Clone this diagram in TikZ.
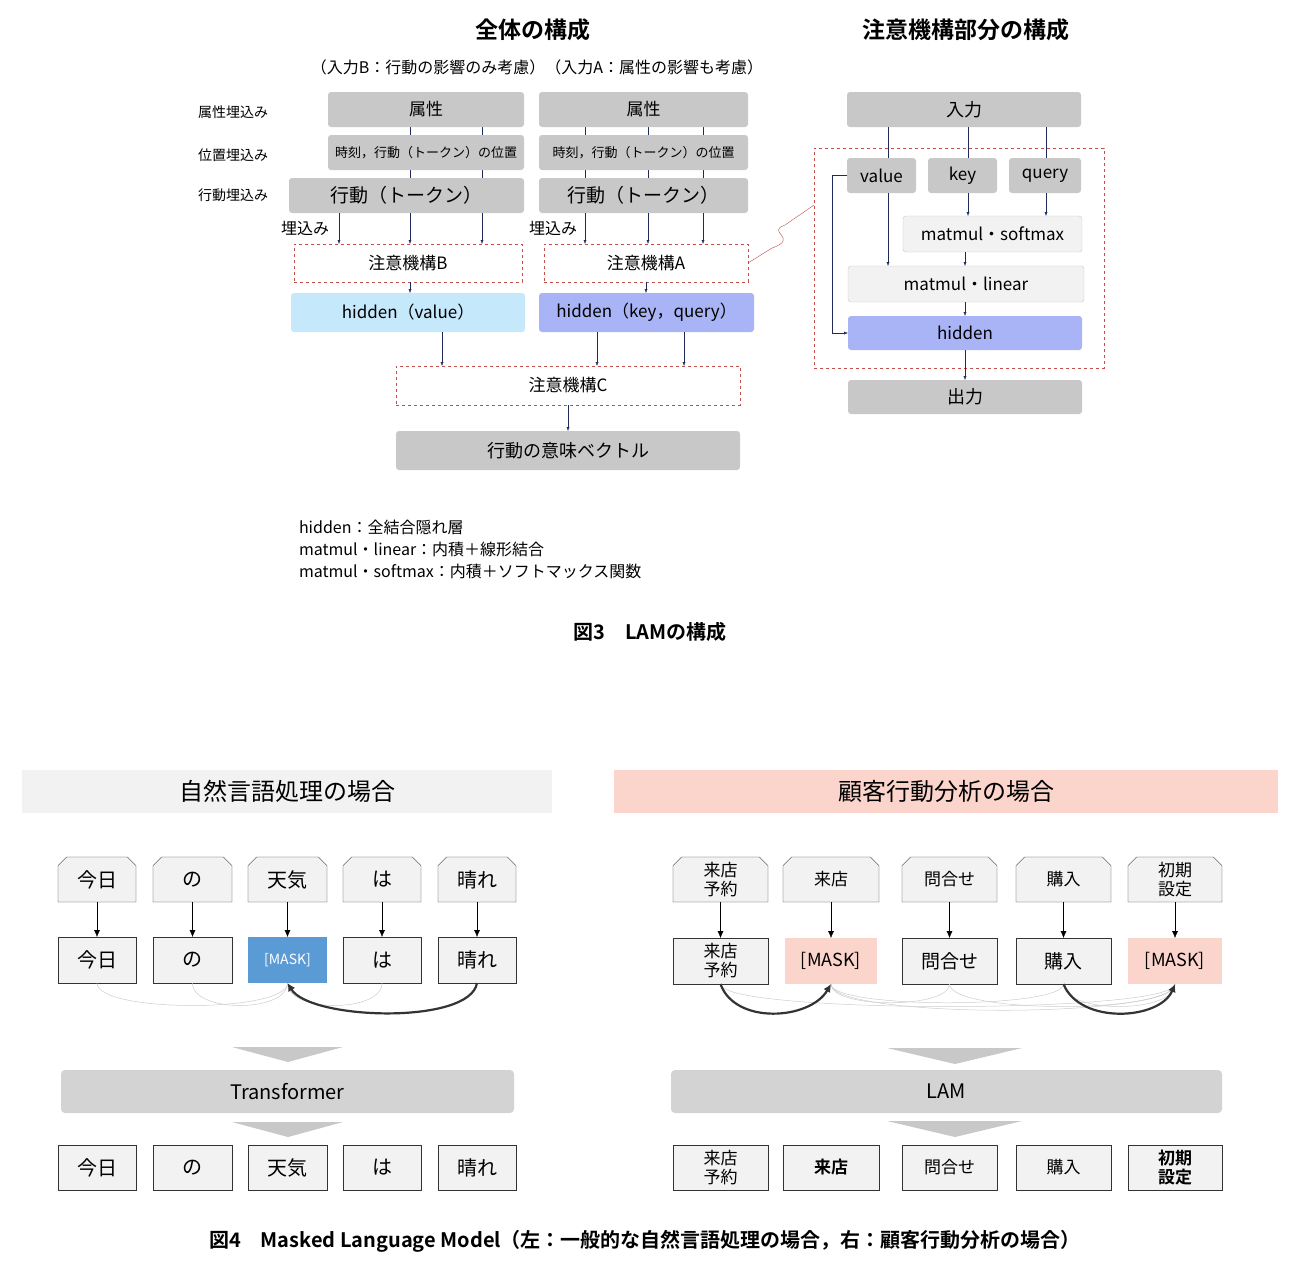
\documentclass[tikz,border=0pt]{standalone}
\usepackage{fontspec}
\setmainfont{Noto Sans CJK JP}[BoldFont={Noto Sans CJK JP Bold}]
\usetikzlibrary{arrows.meta,shapes.misc,decorations.pathmorphing}
\definecolor{gbox}{HTML}{C8C8C8}
\definecolor{lgray}{HTML}{F2F2F2}
\definecolor{lblue}{HTML}{C5E8FB}
\definecolor{pblue}{HTML}{A8B4F5}
\definecolor{mblue}{HTML}{5B9BD5}
\definecolor{pink}{HTML}{FBD5CB}
\definecolor{dred}{HTML}{C0504D}
\definecolor{navy}{HTML}{1F2A5A}
\newcommand\bx[7]{\node[#1,minimum width={(#5-#3)*1pt},minimum height={(#6-#4)*1pt}] (#2) at ({(#3+#5)/2},{(#4+#6)/2}) {#7};}
\tikzset{
 every node/.style={inner sep=0pt,outer sep=0pt,font=\fontsize{14}{16}\selectfont},
 gb/.style={fill=gbox,rounded corners=3pt},
 dsh/.style={draw=dred,dashed,thick},
 lb/.style={fill=lgray,draw=gbox,rounded corners=3pt},
 arr/.style={navy,-{Latex[length=4pt,width=3pt]}},
 tk/.style={fill=lgray,draw=black!80},
 ch/.style={tk,chamfered rectangle,chamfered rectangle corners={north west,north east},chamfered rectangle xsep=5pt},
 bar/.style={fill=gbox!80,rounded corners=4pt,font=\fontsize{20}{22}\selectfont},
 tri/.style={fill=gbox},
 barr/.style={black,-{Latex[length=7pt,width=6pt]}},
 faint/.style={black!20,line width=0.5pt},
 thick2/.style={black!80,line width=2.2pt,-{Latex[length=8pt,width=8pt]}},
 hw/.style={font=\fontsize{20}{22}\selectfont},
 two/.style={align=center,font=\fontsize{17}{19}\selectfont},
}
\begin{document}
\begin{tikzpicture}[x=1pt,y=-1pt]
\useasboundingbox (0,0) rectangle (1300,1270);
% titles
\node[font=\bfseries\fontsize{23}{25}\selectfont] (t1) at (533,30) {全体の構成};
\node[font=\bfseries\fontsize{23}{25}\selectfont] (t2) at (966,30) {注意機構部分の構成};
\node[font=\fontsize{16}{18}\selectfont] (st) at (537,67) {（入力B：行動の影響のみ考慮）（入力A：属性の影響も考慮）};
\node[font=\fontsize{14}{16}\selectfont] (l1) at (233,112) {属性埋込み};
\node[font=\fontsize{14}{16}\selectfont] (l2) at (233,155) {位置埋込み};
\node[font=\fontsize{14}{16}\selectfont] (l3) at (233,195) {行動埋込み};
% vertical through-lines
\draw[navy] (410,127) -- (410,178) (482,127) -- (482,178);
\draw[navy] (585,127) -- (585,178) (648,127) -- (648,178) (703,127) -- (703,178);
\bx{gb,font=\fontsize{17}{19}\selectfont}{aB}{328}{92}{524}{127}{属性}
\bx{gb,font=\fontsize{13}{15}\selectfont}{pB}{328}{135}{524}{170}{時刻，行動（トークン）の位置}
\bx{gb,font=\fontsize{19}{21}\selectfont}{tB}{289}{178}{524}{213}{行動（トークン）}
\bx{gb,font=\fontsize{17}{19}\selectfont}{aA}{539}{92}{748}{127}{属性}
\bx{gb,font=\fontsize{13}{15}\selectfont}{pA}{539}{135}{748}{170}{時刻，行動（トークン）の位置}
\bx{gb,font=\fontsize{19}{21}\selectfont}{tA}{539}{178}{748}{213}{行動（トークン）}
\node[font=\fontsize{16}{18}\selectfont] (eB) at (305,228) {埋込み};
\node[font=\fontsize{16}{18}\selectfont] (eA) at (553,228) {埋込み};
\bx{dsh,font=\fontsize{17}{19}\selectfont}{atB}{294}{244}{522}{282}{注意機構B}
\bx{dsh,font=\fontsize{17}{19}\selectfont}{atA}{544}{244}{748}{282}{注意機構A}
\draw[arr] (339,0 |- tB.south) -- (339,0 |- atB.north);
\draw[arr] (410,0 |- tB.south) -- (410,0 |- atB.north);
\draw[arr] (482,0 |- tB.south) -- (482,0 |- atB.north);
\draw[arr] (585,0 |- tA.south) -- (585,0 |- atA.north);
\draw[arr] (648,0 |- tA.south) -- (648,0 |- atA.north);
\draw[arr] (703,0 |- tA.south) -- (703,0 |- atA.north);
\bx{fill=lblue,rounded corners=3pt,font=\fontsize{17}{19}\selectfont}{hB}{291}{293}{525}{332}{hidden（value）}
\bx{fill=pblue,rounded corners=3pt,font=\fontsize{17}{19}\selectfont}{hA}{539}{293}{754}{332}{hidden（key，query）}
\draw[arr] (410,0 |- atB.south) -- (410,0 |- hB.north);
\draw[arr] (646,0 |- atA.south) -- (646,0 |- hA.north);
\bx{dsh,font=\fontsize{17}{19}\selectfont}{atC}{396}{366}{740}{405}{注意機構C}
\draw[arr] (442,0 |- hB.south) -- (442,0 |- atC.north);
\draw[arr] (597,0 |- hA.south) -- (597,0 |- atC.north);
\draw[arr] (684,0 |- hA.south) -- (684,0 |- atC.north);
\bx{gb,font=\fontsize{18}{20}\selectfont}{vec}{396}{431}{740}{470}{行動の意味ベクトル}
\draw[arr] (568,0 |- atC.south) -- (568,0 |- vec.north);
% right detail
\bx{gb,font=\fontsize{18}{20}\selectfont}{in}{847}{92}{1081}{127}{入力}
\bx{dsh}{frame}{814}{148}{1104}{368}{}
\draw[navy] (888,0 |- in.south) -- (888,158) (968,0 |- in.south) -- (968,158) (1046,0 |- in.south) -- (1046,158);
\bx{gb,font=\fontsize{17}{19}\selectfont}{val}{847}{158}{916}{193}{value}
\bx{gb,font=\fontsize{17}{19}\selectfont}{key}{928}{158}{997}{193}{key}
\bx{gb,font=\fontsize{17}{19}\selectfont}{qry}{1009}{158}{1081}{193}{query}
\bx{lb,font=\fontsize{17}{19}\selectfont}{sm}{903}{216}{1082}{252}{matmul・softmax}
\bx{lb,font=\fontsize{17}{19}\selectfont}{lin}{848}{266}{1084}{302}{matmul・linear}
\bx{fill=pblue,rounded corners=3pt,font=\fontsize{17}{19}\selectfont}{hid}{848}{316}{1082}{350}{hidden}
\bx{gb,font=\fontsize{18}{20}\selectfont}{out}{848}{380}{1082}{414}{出力}
\draw[arr] (968,0 |- key.south) -- (968,0 |- sm.north);
\draw[arr] (1046,0 |- qry.south) -- (1046,0 |- sm.north);
\draw[arr] (888,0 |- val.south) -- (888,0 |- lin.north);
\draw[arr] (965,0 |- sm.south) -- (965,0 |- lin.north);
\draw[arr] (965,0 |- lin.south) -- (965,0 |- hid.north);
\draw[arr] (965,0 |- hid.south) -- (965,0 |- out.north);
\draw[arr] (val.west) -- (832,0 |- val.west) -- (832,0 |- hid.west) -- (hid.west);
\draw[dred] (atA.east) -- (772,248) .. controls (800,238) and (765,232) .. (785,225) -- (frame.west|-0,205);
% legend
\node[anchor=west,font=\fontsize{16}{18}\selectfont] (lg1) at (299,527) {hidden：全結合隠れ層};
\node[anchor=west,font=\fontsize{16}{18}\selectfont] (lg2) at (299,549) {matmul・linear：内積＋線形結合};
\node[anchor=west,font=\fontsize{16}{18}\selectfont] (lg3) at (299,571) {matmul・softmax：内積＋ソフトマックス関数};
\node[font=\bfseries\fontsize{20}{22}\selectfont] (cap3) at (650,632) {図3\quad LAMの構成};
% ===== Figure 4 =====
\bx{fill=lgray,font=\fontsize{24}{26}\selectfont}{hL}{22}{770}{552}{813}{自然言語処理の場合}
\bx{fill=pink,font=\fontsize{24}{26}\selectfont}{hR}{614}{770}{1278}{813}{顧客行動分析の場合}
\foreach \i/\a/\b/\t in {1/58/136/今日,2/153/232/の,3/248/327/天気,4/343/421/は,5/438/516/晴れ}{
  \bx{ch,hw}{Lu\i}{\a}{857}{\b}{902}{\t}
  \bx{tk,hw}{Ld\i}{\a}{1145}{\b}{1190}{\t}
}
\foreach \i/\a/\b/\t in {1/58/136/今日,2/153/232/の,4/343/421/は,5/438/516/晴れ}{
  \bx{tk,hw}{Lm\i}{\a}{937}{\b}{983}{\t}
}
\bx{fill=mblue,text=white,font=\fontsize{14}{16}\selectfont}{Lm3}{248}{937}{327}{983}{[MASK]}
\foreach \i in {1,...,5}{\draw[barr] (Lu\i.south) -- (Lm\i.north);}
\foreach \i in {1,2,4}{\draw[faint] (Lm\i.south) .. controls +(0,30) and +(0,30) .. (Lm3.south);}
\draw[thick2] (Lm5.south) .. controls (470,1025) and (310,1020) .. (Lm3.south);
\fill[tri] (232,1047) -- (343,1047) -- (288,1062) -- cycle;
\bx{bar}{tr}{61}{1070}{514}{1113}{Transformer}
\fill[tri] (232,1122) -- (343,1122) -- (288,1137) -- cycle;
\foreach \i/\a/\b/\t/\d in {1/673/768/{来店\\予約}/{来店\\予約},2/783/879/来店/{\textbf{来店}},3/902/997/問合せ/問合せ,4/1016/1111/購入/購入,5/1128/1222/{初期\\設定}/{\textbf{初期}\\\textbf{設定}}}{
  \bx{ch,two}{Ru\i}{\a}{857}{\b}{902}{\t}
  \bx{tk,two}{Rd\i}{\a}{1145}{\b}{1190}{\d}
}
\bx{tk,two}{Rm1}{673}{938}{768}{984}{来店\\予約}
\bx{fill=pink,font=\fontsize{18}{20}\selectfont}{Rm2}{785}{938}{877}{984}{[MASK]}
\bx{tk,font=\fontsize{19}{21}\selectfont}{Rm3}{902}{938}{997}{984}{問合せ}
\bx{tk,font=\fontsize{19}{21}\selectfont}{Rm4}{1016}{938}{1111}{984}{購入}
\bx{fill=pink,font=\fontsize{18}{20}\selectfont}{Rm5}{1128}{938}{1222}{984}{[MASK]}
\foreach \i in {1,...,5}{\draw[barr] (Ru\i.south) -- (Rm\i.north);}
\foreach \i in {3,4}{\draw[faint] (Rm\i.south) .. controls +(0,25) and +(0,25) .. (Rm2.south);}
\foreach \i in {1,3,4}{\draw[faint] (Rm\i.south) .. controls +(0,30) and +(0,30) .. (Rm5.south);}
\draw[faint] (Rm2.south) .. controls +(0,35) and +(0,35) .. (Rm5.south);
\draw[thick2] (Rm1.south) .. controls (735,1025) and (810,1020) .. (Rm2.south);
\draw[thick2] (Rm4.south) .. controls (1080,1025) and (1160,1020) .. (Rm5.south);
\fill[tri] (887,1048) -- (1022,1048) -- (955,1064) -- cycle;
\bx{bar}{lam}{671}{1070}{1222}{1113}{LAM}
\fill[tri] (887,1121) -- (1022,1121) -- (955,1137) -- cycle;
\node[font=\bfseries\fontsize{20}{22}\selectfont] (cap4) at (645,1241) {図4\quad Masked Language Model（左：一般的な自然言語処理の場合，右：顧客行動分析の場合）};
\end{tikzpicture}
\end{document}
